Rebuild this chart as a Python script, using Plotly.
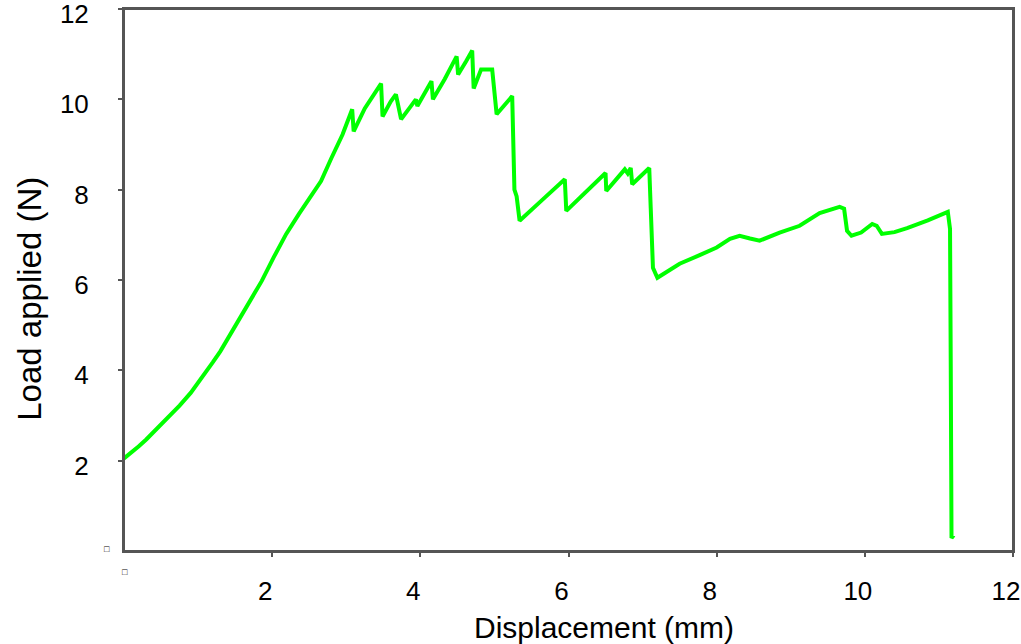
import plotly.graph_objects as go

# Load-displacement curve
displacement_mm = [
    0.00, 0.10, 0.20, 0.30, 0.47, 0.60, 0.75, 0.90, 1.01, 1.10, 1.20, 1.30, 1.46, 1.66,
    1.86, 2.02, 2.19, 2.36, 2.54, 2.66,
    2.80, 2.95, 3.08, 3.10, 3.25, 3.47, 3.49, 3.60, 3.67, 3.74, 3.85, 3.94, 3.96,
    4.05, 4.15, 4.17, 4.33, 4.49, 4.51, 4.62, 4.70, 4.72, 4.82, 4.97, 5.03, 5.24,
    5.26, 5.27, 5.30, 5.34, 5.65, 5.95, 5.97, 6.25, 6.50, 6.51, 6.76, 6.80, 6.84,
    6.86, 7.09, 7.11, 7.12, 7.14, 7.20, 7.50, 7.77, 8.00, 8.18, 8.31, 8.45, 8.58,
    8.85, 9.12, 9.39, 9.66, 9.72, 9.76, 9.82, 9.95, 10.10, 10.16, 10.23, 10.40,
    10.57, 10.85, 11.12, 11.15, 11.16, 11.17, 11.20,
]
load_N = [
    2.05, 2.18, 2.32, 2.47, 2.75, 2.96, 3.22, 3.50, 3.74, 3.95, 4.18, 4.42, 4.86, 5.42,
    5.98, 6.50, 7.02, 7.46, 7.90, 8.19,
    8.70, 9.22, 9.78, 9.29, 9.80, 10.35, 9.62, 9.95, 10.11, 9.56, 9.80, 10.00, 9.85,
    10.10, 10.40, 10.00, 10.45, 10.95, 10.55, 10.85, 11.08, 10.24, 10.66, 10.66, 9.67, 10.07,
    9.00, 8.00, 7.85, 7.31, 7.78, 8.23, 7.53, 7.98, 8.37, 7.97, 8.45, 8.36, 8.48,
    8.12, 8.48, 7.59, 6.80, 6.27, 6.05, 6.36, 6.55, 6.72, 6.91, 6.98, 6.92, 6.87,
    7.05, 7.20, 7.48, 7.62, 7.58, 7.09, 6.98, 7.05, 7.24, 7.20, 7.02, 7.06,
    7.15, 7.32, 7.51, 7.13, 4.00, 0.29, 0.35,
]

x_ticks = [2, 4, 6, 8, 10, 12]
y_ticks = [2, 4, 6, 8, 10, 12]
x_title = "Displacement (mm)"
y_title = "Load applied (N)"

FONT = "Liberation Sans, Arial, Helvetica, sans-serif"
AXIS_COLOR = "#555555"

fig = go.Figure()
fig.add_trace(go.Scatter(
    x=displacement_mm, y=load_N, mode="lines",
    line=dict(color="#00ff00", width=4),
    showlegend=False, hoverinfo="skip",
))

axis_common = dict(
    showgrid=False, zeroline=False, showline=True, linecolor=AXIS_COLOR, linewidth=2,
    mirror=True, ticks="outside", ticklen=4, tickwidth=2, tickcolor=AXIS_COLOR,
    tickfont=dict(family=FONT, size=26, color="black"), ticklabeloverflow="allow",
    automargin=False,
)
fig.update_xaxes(range=[0, 12], tickvals=x_ticks, ticktext=[str(v) for v in x_ticks],
                 ticklabelstandoff=12, ticklabelshift=-7, **axis_common)
fig.update_yaxes(range=[0, 12], tickvals=y_ticks, ticktext=[str(v) for v in y_ticks],
                 ticklabelstandoff=24, ticklabelshift=5, **axis_common)

fig.update_layout(
    width=1021, height=644,
    margin=dict(l=124, r=8, t=9, b=93),
    plot_bgcolor="white", paper_bgcolor="white",
    font=dict(family=FONT, color="black"),
    shapes=[dict(type="rect", xref="paper", yref="paper", x0=0, x1=1, y0=0, y1=1,
                 line=dict(color=AXIS_COLOR, width=2), layer="above")],
    annotations=[
        dict(text=x_title, xref="paper", yref="paper", x=0.540, y=-0.142,
             xanchor="center", yanchor="middle", showarrow=False,
             font=dict(family=FONT, size=30, color="black")),
        dict(text=y_title, xref="paper", yref="paper", x=-0.106, y=0.465,
             xanchor="center", yanchor="middle", showarrow=False, textangle=-90,
             font=dict(family=FONT, size=33, color="black")),
        dict(text="□", xref="paper", yref="paper", x=-0.019, y=0.004,
             xanchor="center", yanchor="middle", showarrow=False,
             font=dict(family=FONT, size=9, color="black")),
        dict(text="□", xref="paper", yref="paper", x=0.001, y=-0.039,
             xanchor="center", yanchor="middle", showarrow=False,
             font=dict(family=FONT, size=9, color="black")),
    ],
)

fig.write_html("out.html", config={"displayModeBar": False},
               post_script="document.body.style.margin='0';")
